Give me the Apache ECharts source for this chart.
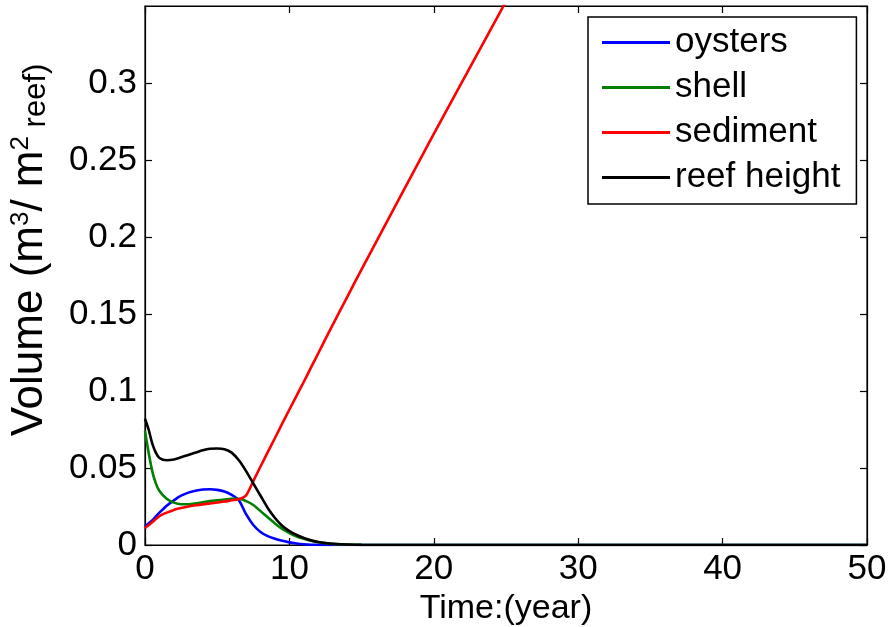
<!DOCTYPE html>
<html>
<head>
<meta charset="utf-8">
<title>reef volume</title>
<script src="https://cdn.jsdelivr.net/npm/echarts@6/dist/echarts.min.js"></script>
<style>
  html, body { margin: 0; padding: 0; background: #fff; }
  #chart { width: 889px; height: 627px; }
</style>
</head>
<body>
<div id="chart"></div>
<script>
// time (year)
const years = [0, 0.25, 0.5, 0.75, 1, 1.5, 2, 2.5, 3, 3.5, 4, 4.5, 5, 5.5, 6, 6.5, 7, 7.5, 8, 8.5, 9, 9.5, 10, 10.5, 11, 11.5, 12, 12.5, 13, 14, 15, 20, 25, 30, 40, 50];

// volume (m3 / m2 reef)
const oysters = [0.012, 0.014, 0.016, 0.0185, 0.021, 0.0255, 0.029, 0.032, 0.034, 0.0352, 0.036, 0.0362, 0.0358, 0.0347, 0.0325, 0.029, 0.020, 0.013, 0.0085, 0.0058, 0.004, 0.0027, 0.0017, 0.001, 0.0005, 0.0002, 0.0001, 0, 0, 0, 0, 0, 0, 0, 0, 0];
const shell = [0.074, 0.060, 0.048, 0.040, 0.035, 0.030, 0.0275, 0.0265, 0.0265, 0.027, 0.0278, 0.0285, 0.029, 0.0295, 0.030, 0.030, 0.0285, 0.026, 0.022, 0.018, 0.014, 0.0105, 0.0078, 0.0055, 0.004, 0.0028, 0.0018, 0.0012, 0.0007, 0.0003, 0.0001, 0, 0, 0, 0, 0];
const sediment = [0.011, 0.0128, 0.0148, 0.0168, 0.0188, 0.021, 0.0228, 0.024, 0.025, 0.0258, 0.0264, 0.027, 0.0276, 0.0282, 0.029, 0.0297, 0.0322, 0.0415, 0.051, 0.0603, 0.0695, 0.0788, 0.088, 0.097, 0.106, 0.1153, 0.1245, 0.1338, 0.143, 0.161, 0.179, 0.267, 0.353, 0.44, 0.613, 0.786];
const reefHeight = [0.082, 0.075, 0.066, 0.060, 0.0565, 0.055, 0.0555, 0.057, 0.0585, 0.060, 0.0615, 0.0625, 0.0627, 0.0622, 0.060, 0.055, 0.048, 0.040, 0.032, 0.024, 0.0175, 0.0125, 0.009, 0.0065, 0.0045, 0.003, 0.002, 0.0013, 0.0008, 0.0003, 0.0001, 0, 0, 0, 0, 0];

const seriesNames = ['oysters', 'shell', 'sediment', 'reef height'];
const seriesColors = ['#0000ff', '#008000', '#ff0000', '#000000'];
const seriesValues = [oysters, shell, sediment, reefHeight];

const chart = echarts.init(document.getElementById('chart'));
const font = 'Liberation Sans, Arial, sans-serif';

// MATLAB-like box: inward ticks on all four sides
function ticks() {
  return { show: true, inside: true, length: 7, lineStyle: { color: '#000', width: 1.2 } };
}
function axisLine() {
  return { show: true, onZero: false, lineStyle: { color: '#000', width: 1.2 } };
}

const option = {
  animation: false,
  backgroundColor: '#fff',
  grid: {
    left: 145, right: 22, top: 6, bottom: 82,
    outerBoundsMode: 'none',
    containLabel: false,
    show: true, borderColor: '#000', borderWidth: 1.2
  },
  legend: {
    orient: 'vertical',
    left: 588, top: 17,
    padding: [3, 16, 4, 14],
    backgroundColor: '#fff',
    borderColor: '#000', borderWidth: 1.5,
    icon: 'rect', itemWidth: 68, itemHeight: 3, itemGap: 0,
    textStyle: { fontFamily: font, fontSize: 35, color: '#000', lineHeight: 45 },
    data: seriesNames
  },
  xAxis: [
    {
      type: 'value', position: 'bottom', min: 0, max: 50, interval: 10,
      name: 'Time:(year)', nameLocation: 'middle', nameGap: 41,
      nameTextStyle: { fontFamily: font, fontSize: 34, color: '#000' },
      axisLine: axisLine(),
      axisTick: ticks(),
      axisLabel: { fontFamily: font, fontSize: 35, color: '#000', margin: 7 },
      splitLine: { show: false }
    },
    {
      type: 'value', position: 'top', min: 0, max: 50, interval: 10,
      axisLine: axisLine(),
      axisTick: ticks(), axisLabel: { show: false }, splitLine: { show: false }
    }
  ],
  yAxis: [
    {
      type: 'value', position: 'left', min: 0, max: 0.35, interval: 0.05,
      axisLine: axisLine(),
      axisTick: ticks(),
      axisLabel: { fontFamily: font, fontSize: 35, color: '#000', margin: 8, showMaxLabel: false },
      splitLine: { show: false }
    },
    {
      type: 'value', position: 'right', min: 0, max: 0.35, interval: 0.05,
      axisLine: axisLine(),
      axisTick: ticks(), axisLabel: { show: false }, splitLine: { show: false }
    }
  ],
  graphic: [
    {
      type: 'text',
      x: 30, y: 250,
      rotation: Math.PI / 2,
      style: {
        text: '{a|Volume (m}{s|3}{a|/ m}{s|2}{b| reef)}',
        align: 'center', verticalAlign: 'middle',
        rich: {
          a: { fontFamily: font, fontSize: 44, fill: '#000', verticalAlign: 'bottom' },
          s: { fontFamily: font, fontSize: 26, fill: '#000', verticalAlign: 'top' },
          b: { fontFamily: font, fontSize: 31, fill: '#000', verticalAlign: 'bottom' }
        }
      }
    }
  ],
  series: seriesNames.map((name, i) => ({
    name: name,
    type: 'line',
    xAxisIndex: 0, yAxisIndex: 0,
    data: years.map((t, j) => [t, seriesValues[i][j]]),
    smooth: 0.25,
    symbol: 'none',
    clip: true,
    z: i === 3 ? 5 : 2 + i,
    lineStyle: { color: seriesColors[i], width: 2.6 },
    itemStyle: { color: seriesColors[i] }
  }))
};

chart.setOption(option);
</script>
</body>
</html>
